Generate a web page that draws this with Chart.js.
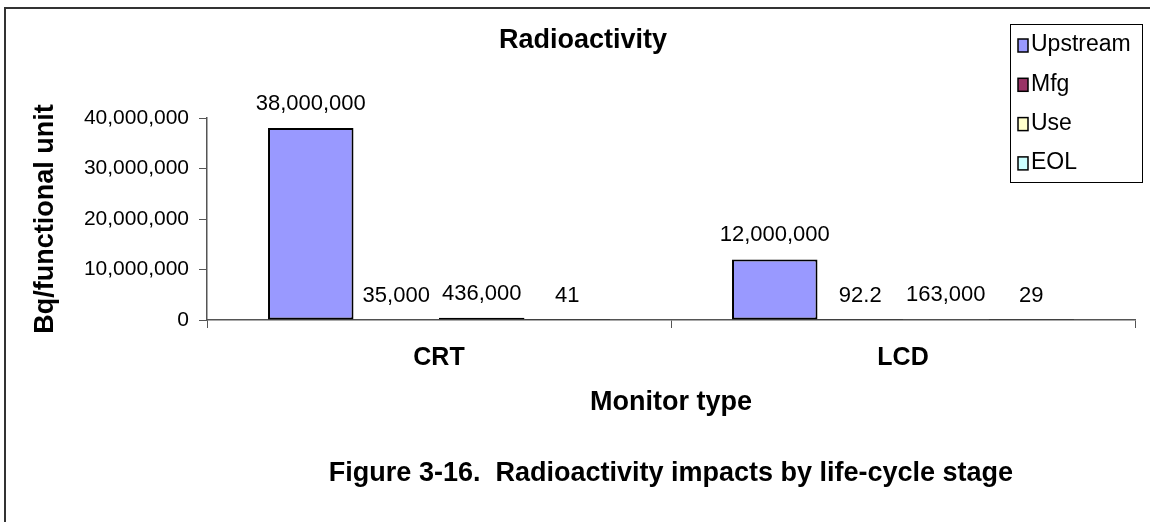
<!DOCTYPE html>
<html>
<head>
<meta charset="utf-8">
<title>Radioactivity</title>
<script src="https://cdn.jsdelivr.net/npm/chart.js@4.4.1/dist/chart.umd.min.js"></script>
<style>
  html, body { margin: 0; padding: 0; background: #fff; }
  #wrap { width: 1150px; height: 522px; }
</style>
</head>
<body>
<div id="wrap"><canvas id="chart" width="1150" height="522"></canvas></div>
<script>
// data
const categories = ['CRT', 'LCD'];
const stages = ['Upstream', 'Mfg', 'Use', 'EOL'];
const upstream = [38000000, 12000000];
const mfg = [35000, 92.2];
const use = [436000, 163000];
const eol = [41, 29];
const yTicks = [0, 10000000, 20000000, 30000000, 40000000];

const stageColors = ['#9999FF', '#993366', '#FFFFCC', '#CCFFFF'];
const FONT = '"Liberation Sans", Arial, sans-serif';

const series = [upstream, mfg, use, eol];

// frame, title, caption
const decorations = {
  id: 'decorations',
  beforeDraw(chart) {
    const ctx = chart.ctx;
    ctx.save();
    ctx.fillStyle = '#fff';
    ctx.fillRect(0, 0, chart.width, chart.height);
    ctx.strokeStyle = '#333';
    ctx.lineWidth = 2;
    ctx.beginPath();
    ctx.moveTo(5, chart.height);
    ctx.lineTo(5, 8);
    ctx.lineTo(chart.width, 8);
    ctx.stroke();
    ctx.restore();
  },
  afterDraw(chart) {
    const ctx = chart.ctx;
    ctx.save();
    ctx.fillStyle = '#000';
    ctx.textAlign = 'center';
    ctx.textBaseline = 'middle';
    ctx.font = 'bold 27px ' + FONT;
    ctx.fillText('Radioactivity', 583, 41);
    ctx.fillText('Figure 3-16.  Radioactivity impacts by life-cycle stage', 671, 474);
    ctx.restore();
  }
};

// numbers above the bars
const barLabels = {
  id: 'barLabels',
  afterDatasetsDraw(chart) {
    const ctx = chart.ctx;
    ctx.save();
    ctx.fillStyle = '#000';
    ctx.font = '22px ' + FONT;
    ctx.textAlign = 'center';
    ctx.textBaseline = 'middle';
    chart.data.datasets.forEach((ds, i) => {
      chart.getDatasetMeta(i).data.forEach((bar, j) => {
        ctx.fillText(ds.data[j].toLocaleString('en-US'), bar.x, bar.y - 24);
      });
    });
    ctx.restore();
  }
};

// Excel style boxed legend at top right
const boxLegend = {
  id: 'boxLegend',
  afterDraw(chart) {
    const ctx = chart.ctx;
    const x0 = 1010, y0 = 24, w = 132, h = 158;
    ctx.save();
    ctx.fillStyle = '#fff';
    ctx.fillRect(x0, y0, w, h);
    ctx.strokeStyle = '#000';
    ctx.lineWidth = 1;
    ctx.strokeRect(x0 + 0.5, y0 + 0.5, w, h);
    ctx.font = '23px ' + FONT;
    ctx.textBaseline = 'middle';
    chart.data.datasets.forEach((ds, i) => {
      const cy = 45 + i * 39.3;
      ctx.fillStyle = ds.backgroundColor;
      ctx.fillRect(1018, cy - 6, 10, 13);
      ctx.lineWidth = 1.5;
      ctx.strokeRect(1018, cy - 6, 10, 13);
      ctx.fillStyle = '#000';
      ctx.fillText(ds.label, 1031, cy);
    });
    ctx.restore();
  }
};

new Chart(document.getElementById('chart'), {
  type: 'bar',
  data: {
    labels: categories,
    datasets: stages.map((name, i) => ({
      label: name,
      data: series[i],
      backgroundColor: stageColors[i],
      borderColor: '#000',
      borderWidth: 2,
      borderSkipped: false,
      categoryPercentage: 0.737,
      barPercentage: 1
    }))
  },
  options: {
    responsive: false,
    animation: false,
    layout: { padding: { top: 118, left: 25, right: 15, bottom: 99 } },
    plugins: {
      legend: { display: false },
      title: { display: false },
      tooltip: { enabled: false }
    },
    scales: {
      x: {
        grid: { offset: true, drawOnChartArea: false, tickLength: 8, color: '#555' },
        border: { color: '#555', width: 1.5 },
        ticks: { color: '#000', padding: 15, font: { family: FONT, size: 25, weight: 'bold' } },
        title: {
          display: true, text: 'Monitor type', color: '#000',
          font: { family: FONT, size: 27, weight: 'bold' }, padding: { top: 4, bottom: 4 }
        },
        afterFit(scale) { scale.height = 103; }
      },
      y: {
        min: 0,
        max: 40000000,
        afterBuildTicks(scale) { scale.ticks = yTicks.map(v => ({ value: v })); },
        grid: { drawOnChartArea: false, tickLength: 8, color: '#555' },
        border: { color: '#555', width: 1.5 },
        ticks: {
          color: '#000', padding: 10, font: { family: FONT, size: 21 },
          callback: v => v.toLocaleString('en-US')
        },
        title: {
          display: true, text: 'Bq/functional unit', color: '#000',
          font: { family: FONT, size: 27, weight: 'bold' }, padding: { top: 4, bottom: 4 }
        },
        afterFit(scale) { scale.width = 182; }
      }
    }
  },
  plugins: [decorations, barLabels, boxLegend]
});
</script>
</body>
</html>
